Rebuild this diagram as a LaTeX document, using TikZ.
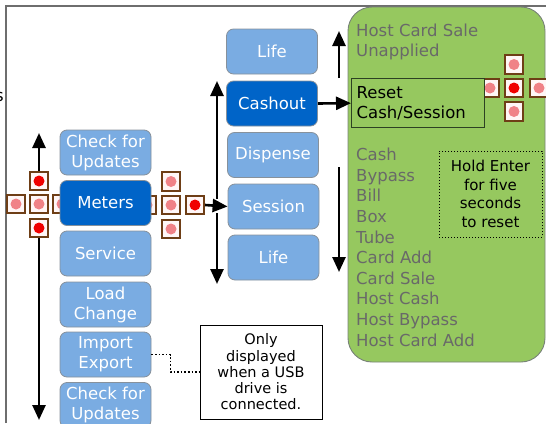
\documentclass[tikz,border=0pt]{standalone}
\usepackage{fontspec}
\setmainfont{DejaVu Sans}
\usetikzlibrary{arrows.meta}
\definecolor{paleblue}{RGB}{122,172,226}
\definecolor{deepblue}{RGB}{0,100,200}
\definecolor{boxedge}{RGB}{135,145,155}
\definecolor{panelgreen}{RGB}{150,200,95}
\definecolor{paneledge}{RGB}{120,130,120}
\definecolor{resetedge}{RGB}{45,65,35}
\definecolor{keyedge}{RGB}{110,62,22}
\definecolor{keyface}{RGB}{255,246,246}
\definecolor{dotoff}{RGB}{240,130,135}
\definecolor{doton}{RGB}{240,0,0}
\definecolor{listgray}{RGB}{105,105,105}
\definecolor{framegray}{RGB}{110,110,110}

\begin{document}
\begin{tikzpicture}[x=1pt,y=-1pt,
  menubox/.style={draw=boxedge, line width=0.8pt, fill=paleblue, rounded corners=7pt,
    minimum width=91pt, minimum height=45pt, text=white, align=center, inner sep=0pt,
    font=\fontsize{16.5}{20}\selectfont},
  menusel/.style={menubox, fill=deepblue},
  keysq/.style={draw=keyedge, line width=1.6pt, fill=keyface, minimum size=18.5pt, inner sep=0pt},
  keyoff/.style={keysq, path picture={\fill[dotoff] (path picture bounding box.center) circle (5.5pt);}},
  keyon/.style={keysq, path picture={\fill[doton] (path picture bounding box.center) circle (5.5pt);}},
  flow/.style={line width=2.6pt, -{Triangle[length=15pt,width=13pt]}},
  listtext/.style={anchor=north west, inner sep=0pt, align=left, text=listgray,
    font=\fontsize{16.5}{20.6}\selectfont},
]
\useasboundingbox (0,0) rectangle (546,423);

% window frame
\draw[framegray, line width=1.8pt] (6,423) -- (6,6) -- (546,6);
\node[anchor=base east, inner sep=0pt, font=\fontsize{16.5}{20}\selectfont] (edgetext) at (4,101) {s};

% green panel
\node[draw=paneledge, line width=0.9pt, fill=panelgreen, rounded corners=24pt,
      minimum width=197pt, minimum height=355pt, inner sep=0pt] (panel) at (446.5,184.5) {};

% key pads (drawn first so the menu boxes cover their inner squares)
\node[keyoff] (lk-c) at (39,204) {};
\node[keyon]  (lk-t) at (39,181) {};
\node[keyon]  (lk-b) at (39,228) {};
\node[keyoff] (lk-l) at (16,204) {};
\node[keyoff] (lk-r) at (62,204) {};

\node[keyoff] (mk-c) at (171,205) {};
\node[keyoff] (mk-t) at (171,181.5) {};
\node[keyoff] (mk-b) at (171,229) {};
\node[keyoff] (mk-l) at (147,205) {};
\node[keyon]  (mk-r) at (195,205) {};

\node[keyon]  (gk-c) at (514,88) {};
\node[keyoff] (gk-t) at (514,64.5) {};
\node[keyoff] (gk-b) at (514,111.5) {};
\node[keyoff] (gk-l) at (490,88) {};
\node[keyoff] (gk-r) at (539,88) {};

% main menu column
\node[menubox] (cu1)     at (105.5,152.5) {Check for\\Updates};
\node[menusel] (meters)  at (105.5,203)   {Meters};
\node[menubox] (service) at (105.5,253.5) {Service};
\node[menubox] (load)    at (105.5,304.5) {Load\\Change};
\node[menubox] (import)  at (105.5,354.5) {Import\\Export};
\node[menubox] (cu2)     at (105.5,405)   {Check for\\Updates};

% meters sub-menu column
\node[menubox] (life1)    at (272,51.5)    {Life};
\node[menusel] (cashout)  at (272,103.5)   {Cashout};
\node[menubox] (dispense) at (273,155)     {Dispense};
\node[menubox] (session)  at (273.5,206.5) {Session};
\node[menubox] (life2)    at (273.5,257.5) {Life};

% cashout meter list
\node[draw=resetedge, line width=1.3pt, fill=panelgreen, anchor=north west,
      text width=123pt, inner xsep=5pt, inner ysep=0pt, minimum height=49pt, align=left,
      font=\fontsize{16.5}{20}\selectfont] (reset) at (351,78) {Reset\\Cash/Session};
\node[listtext] (hostsale) at (356,23.5) {Host Card Sale\\Unapplied};
\node[listtext] (meterlist) at (356,148) {Cash\\Bypass\\Bill\\Box\\Tube\\Card Add\\Card Sale\\Host Cash\\Host Bypass\\Host Card Add};
\node[draw=black, dotted, line width=1pt, minimum width=103pt, minimum height=86pt,
      inner sep=0pt, align=center, font=\fontsize{15}{18.4}\selectfont]
      (hold) at (490.5,194) {Hold Enter\\for five\\seconds\\to reset};

% usb note
\node[draw=black, line width=0.9pt, fill=white, minimum width=122pt, minimum height=94pt,
      inner sep=0pt, align=center, font=\fontsize{14.5}{16.25}\selectfont]
      (note) at (261,372) {Only\\displayed\\when a USB\\drive is\\connected.};
\draw[dotted, line width=1.6pt] (import.east) -- ++(19,0) |- (note.west);

% navigation arrows
\coordinate (lup) at (39,133);
\coordinate (ldown) at (39,420);
\draw[flow] (lk-t.north) -- (lup);
\draw[flow] (lk-b.south) -- (ldown);
\draw[flow] (mk-r.east) -- (session.west);

\coordinate (mup0) at (217,199);
\coordinate (mup1) at (217,81);
\coordinate (mdn0) at (217,213);
\coordinate (mdn1) at (217,284);
\draw[flow] (mup0) -- (mup1);
\draw[flow] (mdn0) -- (mdn1);

\draw[flow] (cashout.east) -- (reset.west);

\coordinate (gup0) at (339,78);
\coordinate (gup1) at (339,31);
\coordinate (gdn0) at (339,167);
\coordinate (gdn1) at (339,272);
\draw[flow] (gup0) -- (gup1);
\draw[flow] (gdn0) -- (gdn1);
\end{tikzpicture}
\end{document}
